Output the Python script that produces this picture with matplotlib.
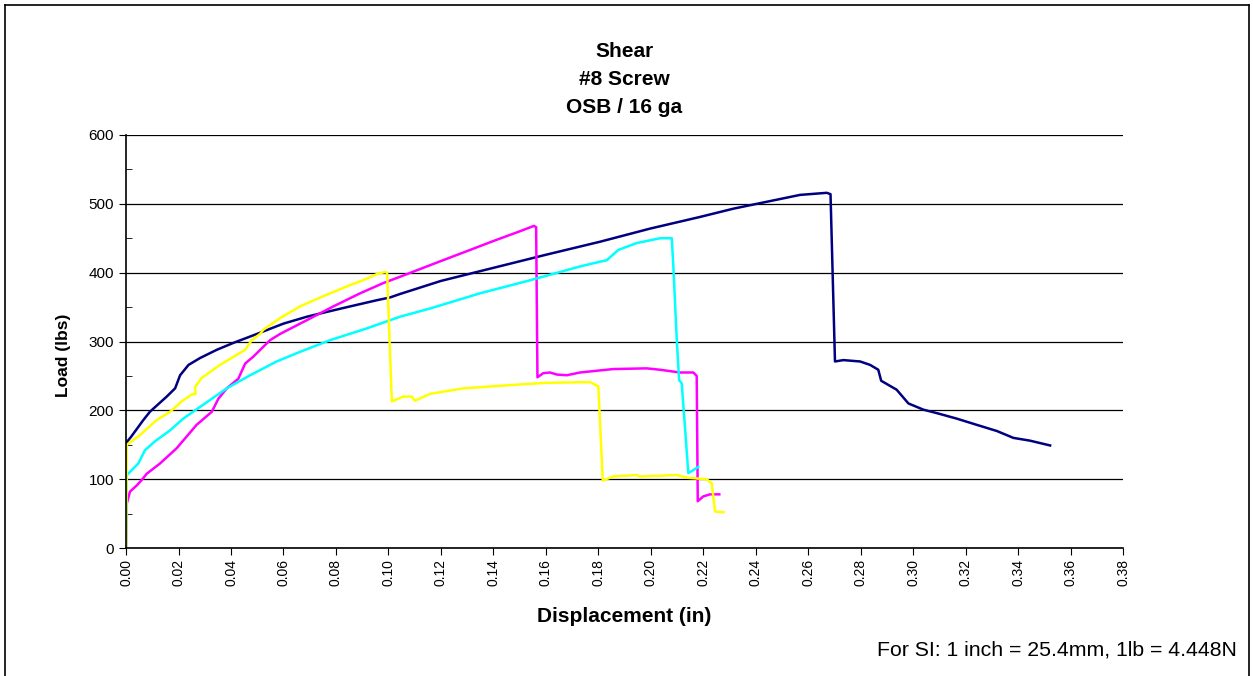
import matplotlib.pyplot as plt
from matplotlib.lines import Line2D
from matplotlib.ticker import MultipleLocator, FormatStrFormatter

plt.rcParams['font.family'] = ['Liberation Sans', 'DejaVu Sans']

# navy test
navy_x = [0.0, 0.0003, 0.002, 0.0066, 0.0091, 0.0155, 0.0187, 0.0206, 0.0238, 0.0282, 0.0346,
          0.0409, 0.0485, 0.060, 0.0689, 0.0765, 0.0854, 0.0956, 0.1006, 0.1044, 0.12, 0.14,
          0.16, 0.1807, 0.1997, 0.2188, 0.2315, 0.2442, 0.2569, 0.2671, 0.2685, 0.2702,
          0.2734, 0.2798, 0.2836, 0.2867, 0.2878, 0.2937, 0.2982, 0.3039, 0.309, 0.3166,
          0.3242, 0.3319, 0.3382, 0.3445, 0.3522]
navy_y = [150, 154, 162, 186, 198, 220, 232, 251, 266, 276, 288,
          298, 309, 326, 336, 343, 351, 360, 364, 369, 388, 407,
          426, 445, 464, 481, 493, 503, 513, 516, 514, 271,
          273, 271, 266, 259, 243, 230, 210, 201, 196, 188,
          179, 170, 160, 156, 149]

# magenta test
mag_x = [0.0, 0.0003, 0.0015, 0.0041, 0.006, 0.0079, 0.013, 0.0193, 0.0231, 0.0269, 0.0327,
         0.0352, 0.0384, 0.0428, 0.0454, 0.0485, 0.0549, 0.0587, 0.0689, 0.079, 0.0892,
         0.0981, 0.1044, 0.118, 0.1311, 0.14, 0.15, 0.1555, 0.1563, 0.1568, 0.159, 0.1616,
         0.1642, 0.168, 0.173, 0.1857, 0.1984, 0.2035, 0.2111, 0.2162, 0.2175, 0.2179,
         0.22, 0.2226, 0.2261]
mag_y = [0, 65, 82, 91, 99, 108, 123, 145, 162, 179, 198,
         217, 232, 246, 268, 278, 302, 311, 331, 351, 370,
         385, 394, 414, 433, 446, 460, 468, 466, 248, 254, 255,
         252, 251, 255, 260, 261, 259, 255, 255, 250, 68,
         75, 78, 78]

# cyan test
cyan_x = [0.0, 0.0003, 0.0047, 0.0072, 0.011, 0.0168, 0.0218, 0.0282, 0.0384, 0.0473, 0.0574,
          0.0663, 0.0778, 0.0917, 0.1044, 0.1159, 0.1349, 0.154, 0.173, 0.1807, 0.1832,
          0.1876, 0.1946, 0.2035, 0.208, 0.2086, 0.2099, 0.2108, 0.2118, 0.2143, 0.2162,
          0.2181]
cyan_y = [0, 106, 123, 142, 155, 171, 188, 205, 232, 251, 271,
          285, 302, 319, 336, 348, 370, 389, 409, 416, 418,
          433, 443, 450, 450, 409, 302, 244, 239, 109, 113,
          118]

# yellow test
yel_x = [0.0, 0.0003, 0.0053, 0.0117, 0.0168, 0.0212, 0.025, 0.0265, 0.0263, 0.0288, 0.0358,
         0.0454, 0.0479, 0.0511, 0.0523, 0.0587, 0.0663, 0.0765, 0.0854, 0.0904, 0.0956,
         0.0987, 0.0995, 0.1013, 0.1057, 0.1089, 0.1101, 0.1159, 0.1286, 0.1476, 0.1603,
         0.1768, 0.18, 0.1817, 0.1857, 0.1946, 0.1959, 0.2099, 0.2143, 0.2213, 0.2232,
         0.2245, 0.2277]
yel_y = [0, 150, 164, 186, 198, 213, 223, 224, 234, 247, 266,
         288, 302, 311, 317, 334, 351, 368, 382, 389, 398,
         401, 400, 213, 220, 220, 214, 224, 232, 237, 240,
         241, 235, 98, 104, 106, 104, 106, 102, 100, 94,
         53, 52]

fig = plt.figure(figsize=(12.53, 6.76), dpi=100)
ax = fig.add_axes([0.1006, 0.1893, 0.7957, 0.6110])

ax.plot(navy_x, navy_y, color='#000080', lw=1.8)
ax.plot(mag_x, mag_y, color='#FF00FF', lw=1.8)
ax.plot(cyan_x, cyan_y, color='#00FFFF', lw=1.8)
ax.plot(yel_x, yel_y, color='#FFFF00', lw=1.8)

ax.set_xlim(0, 0.38)
ax.set_ylim(0, 600)
ax.xaxis.set_major_locator(MultipleLocator(0.02))
ax.xaxis.set_major_formatter(FormatStrFormatter('%.2f'))
ax.yaxis.set_major_locator(MultipleLocator(100))
ax.yaxis.set_minor_locator(MultipleLocator(50))
ax.tick_params(axis='x', labelrotation=90, labelsize=10, length=5, direction='out', pad=3)
ax.tick_params(axis='y', which='major', labelsize=11, length=5, direction='out')
ax.tick_params(axis='y', which='minor', length=4, direction='in')
ax.grid(axis='y', color='black', lw=0.9)
ax.get_ygridlines()[-1].set_color('#808080')
ax.set_axisbelow(True)
for s in ['top', 'right']:
    ax.spines[s].set_visible(False)
ax.spines['left'].set_linewidth(1.2)
ax.spines['bottom'].set_linewidth(1.2)

ax.set_xlabel('Displacement (in)', fontsize=15, fontweight='bold', labelpad=15)
ax.set_ylabel('Load (lbs)', fontsize=12.5, fontweight='bold')
ax.yaxis.set_label_coords(-0.055, 0.467)
ax.set_title('Shear\n#8 Screw\nOSB / 16 ga', fontsize=15, fontweight='bold',
             linespacing=1.6, pad=16)

fig.text(0.987, 0.038, 'For SI: 1 inch = 25.4mm, 1lb = 4.448N', ha='right', va='center',
         fontsize=15.3)

# outer frame
fig.add_artist(Line2D([0.004, 0.004], [0, 0.993], color='black', lw=1.2))
fig.add_artist(Line2D([0.004, 0.997], [0.993, 0.993], color='black', lw=1.2))
fig.add_artist(Line2D([0.997, 0.997], [0, 0.993], color='black', lw=1.2))

fig.savefig('out.png', dpi=100)
